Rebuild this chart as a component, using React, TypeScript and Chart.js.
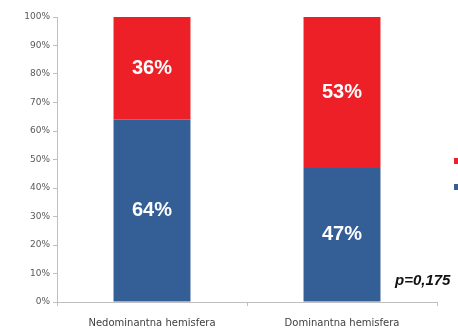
import React, { useEffect, useRef } from "react";
import { Chart, registerables } from "chart.js";

Chart.register(...registerables);

const categories = ["Nedominantna hemisfera", "Dominantna hemisfera"];
const blueValues = [64, 47];
const redValues = [36, 53];
const yTicks = [0, 10, 20, 30, 40, 50, 60, 70, 80, 90, 100];
const pValueText = "p=0,175";

const BLUE = "#335E96";
const RED = "#EE2027";

const labelPlugin = {
  id: "segLabels",
  afterDatasetsDraw(chart: any) {
    const ctx = chart.ctx;
    ctx.save();
    ctx.fillStyle = "#ffffff";
    ctx.font = "bold 20px 'Liberation Sans', Arial, sans-serif";
    ctx.textAlign = "center";
    ctx.textBaseline = "middle";
    chart.data.datasets.forEach((ds: any, di: number) => {
      const meta = chart.getDatasetMeta(di);
      meta.data.forEach((bar: any, i: number) => {
        const v = ds.data[i];
        const y = (bar.y + bar.base) / 2;
        ctx.fillText(v + "%", bar.x, y);
      });
    });
    // p-value
    const area = chart.chartArea;
    ctx.fillStyle = "#111111";
    ctx.font = "italic bold 15px 'Liberation Sans', Arial, sans-serif";
    ctx.textAlign = "left";
    ctx.fillText(pValueText, area.right - 42, area.bottom - 21);
    // cropped legend markers
    ctx.fillStyle = RED;
    ctx.fillRect(area.right + 17, area.top + 141, 6, 6);
    ctx.fillStyle = BLUE;
    ctx.fillRect(area.right + 17, area.top + 167, 6, 6);
    ctx.restore();
  },
};

export default function App() {
  const ref = useRef<HTMLCanvasElement | null>(null);
  useEffect(() => {
    if (!ref.current) return;
    const chart = new Chart(ref.current, {
      type: "bar",
      data: {
        labels: categories,
        datasets: [
          { label: "blue", data: blueValues, backgroundColor: BLUE, barPercentage: 0.405, categoryPercentage: 1 },
          { label: "red", data: redValues, backgroundColor: RED, barPercentage: 0.405, categoryPercentage: 1 },
        ],
      },
      options: {
        animation: false,
        responsive: false,
        layout: { padding: { top: 17, right: 21, left: 0, bottom: 0 } },
        plugins: { legend: { display: false }, tooltip: { enabled: false } },
        scales: {
          x: {
            stacked: true,
            grid: { display: true, drawOnChartArea: false, drawTicks: true, tickLength: 4, color: "#bfbfbf", offset: true },
            border: { color: "#bfbfbf" },
            ticks: { color: "#404040", font: { family: "'DejaVu Sans', sans-serif", size: 10 }, padding: 11 },
            afterFit(scale: any) { scale.height = 28; },
          },
          y: {
            stacked: true,
            min: 0,
            max: 100,
            afterBuildTicks(scale: any) { scale.ticks = yTicks.map((v) => ({ value: v })); },
            grid: { display: true, drawOnChartArea: false, drawTicks: true, tickLength: 4, color: "#bfbfbf" },
            border: { color: "#bfbfbf" },
            ticks: {
              color: "#595959",
              font: { family: "'DejaVu Sans', sans-serif", size: 9 },
              padding: 3,
              callback: (v: any) => v + "%",
            },
            afterFit(scale: any) { scale.width = 57; },
          },
        },
      },
      plugins: [labelPlugin],
    });
    return () => chart.destroy();
  }, []);
  return (
    <div style={{ position: "fixed", left: 0, top: 0, width: 458, height: 330, background: "#fff" }}>
      <canvas ref={ref} width={458} height={330} style={{ display: "block" }} />
    </div>
  );
}
